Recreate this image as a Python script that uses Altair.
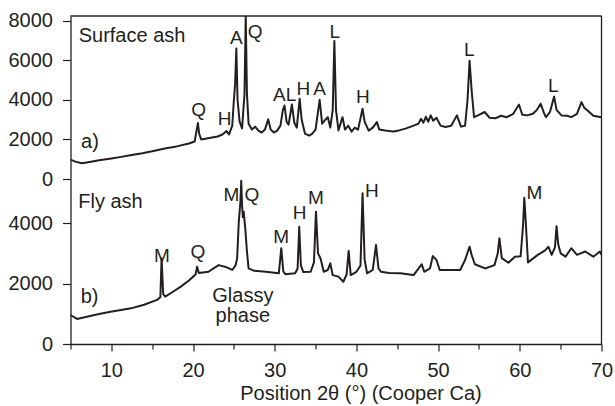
import altair as alt
import pandas as pd

# ---------------- data ----------------
surf_x = [5.0, 5.6, 6.4, 7.5, 8.5, 10.0, 11.2, 12.5, 13.8, 15.0, 16.7, 18.0, 19.5, 20.2, 20.45, 20.6, 20.75, 21.0,
          22.0, 23.0, 23.6, 24.1, 24.4, 24.8, 25.0, 25.15, 25.3, 25.45, 25.7, 26.0, 26.3, 26.45, 26.6, 26.8,
          27.2, 27.6, 28.0, 28.4, 28.8, 29.2, 29.5, 29.9, 30.3, 30.7, 31.0, 31.2, 31.45, 31.7, 32.1, 32.4,
          32.7, 33.05, 33.3, 33.7, 34.2, 34.6, 35.0, 35.5, 35.8, 36.2, 36.5, 36.8, 37.1, 37.3, 37.5, 37.8,
          38.3, 38.6, 39.0, 39.4, 39.8, 40.2, 40.75, 41.0, 41.5, 42.0, 42.5, 42.8, 43.5, 44.5, 45.2, 46.0,
          47.0, 47.6, 47.9, 48.2, 48.5, 48.8, 49.1, 49.4, 49.8, 50.3, 50.9, 51.6, 52.3, 52.8, 53.3, 53.6,
          53.85, 54.1, 54.4, 55.0, 55.7, 56.3, 57.0, 57.7, 58.4, 59.2, 59.9, 60.3, 60.9, 61.6, 62.1, 62.55,
          63.0, 63.2, 63.7, 64.2, 64.5, 65.1, 65.8, 66.3, 67.0, 67.55, 67.9, 68.3, 69.0, 70.0]
surf_y = [980, 880, 800, 870, 950, 1040, 1120, 1210, 1300, 1400, 1560, 1650, 1800, 1900, 2500, 2830, 2300, 2000,
          2080, 2150, 2250, 2430, 2250, 2700, 4000, 4800, 6600, 4000, 2900, 2560, 4300, 8250, 4300, 2800,
          2500, 2650, 2450, 2350, 2500, 3020, 2500, 2350, 2450, 2700, 3500, 3720, 2900, 2750, 3770, 2850,
          2600, 4060, 3000, 2300, 2200, 2300, 2500, 4010, 2800, 3000, 3130, 2600, 3500, 6990, 3500, 2460,
          3130, 2500, 2700, 2400, 2600, 2500, 3560, 2900, 2450, 2600, 2880, 2500, 2450, 2400, 2460, 2550,
          2700, 2800, 3050, 2850, 3150, 2900, 3220, 2950, 3100, 2700, 2630, 2700, 3220, 2650, 2700, 4000,
          5990, 4500, 3130, 3250, 3390, 3100, 3070, 3200, 3130, 3300, 3770, 3250, 3220, 3300, 3500, 3810,
          3300, 3130, 3400, 4170, 3500, 3220, 3200, 3130, 3300, 3890, 3600, 3470, 3200, 3130]

fly_x = [5.0, 5.8, 7.0, 8.5, 9.9, 11.0, 12.4, 14.0, 15.6, 16.0, 16.15, 16.35, 16.6, 17.5, 18.5, 19.5, 20.3,
         20.5, 20.7, 21.9, 22.5, 23.15, 24.0, 24.8, 25.2, 25.4, 25.6, 25.8, 25.9, 26.0, 26.1, 26.2, 26.4,
         26.6, 26.8, 27.5, 28.9, 30.5, 30.8, 31.05, 31.3, 32.5, 32.8, 33.0, 33.2, 33.5, 34.4, 34.8, 35.05,
         35.3, 35.6, 36.0, 36.5, 36.8, 37.1, 37.8, 38.4, 38.8, 39.05, 39.3, 40.0, 40.5, 40.75, 41.0, 41.3,
         42.0, 42.4, 42.7, 43.0, 44.0, 45.4, 46.5, 47.0, 48.0, 48.3, 49.0, 49.35, 49.8, 50.2, 51.5, 52.7,
         53.3, 53.85, 54.1, 54.5, 55.75, 56.9, 57.3, 57.5, 57.8, 58.6, 59.4, 60.1, 60.4, 60.55, 60.75, 61.0,
         62.2, 63.1, 63.5, 63.9, 64.3, 64.5, 64.7, 65.0, 65.6, 66.3, 67.0, 68.0, 69.0, 69.8, 70.0]
fly_y = [960, 830, 900, 990, 1070, 1120, 1180, 1300, 1460, 1550, 2840, 1650, 1570, 1720, 1900, 2100, 2300,
         2560, 2350, 2390, 2500, 2610, 2550, 2450, 2600, 2840, 4050, 4700, 5400, 4600, 4200, 4380, 3800,
         3060, 2500, 2420, 2390, 2340, 3170, 2400, 2310, 2340, 2500, 3880, 2600, 2380, 2390, 2700, 4380,
         3000, 2840, 2390, 2450, 2670, 2280, 2230, 2060, 2300, 3080, 2280, 2390, 2600, 4990, 2800, 2340,
         2450, 3280, 2500, 2390, 2350, 2340, 2300, 2280, 2640, 2390, 2500, 2910, 2780, 2450, 2450, 2450,
         2780, 3220, 2950, 2640, 2500, 2610, 3000, 3500, 2840, 2690, 2890, 2900, 3940, 4840, 3940, 2700,
         2950, 3100, 3220, 2950, 3200, 3900, 3300, 3000, 2890, 3170, 2950, 3060, 2890, 3060, 2950]

# peak labels
top_peak_x = [20.7, 23.85, 25.3, 27.6, 30.55, 32.0, 33.5, 35.5, 37.35, 40.8, 53.8, 64.1]
top_peak_y = [3470, 3050, 7160, 7460, 4230, 4260, 4560, 4560, 7460, 4140, 6520, 4730]
top_peak_t = ["Q", "H", "A", "Q", "A", "L", "H", "A", "L", "H", "L", "L"]

bot_peak_x = [16.2, 20.6, 24.7, 27.2, 30.8, 33.05, 35.05, 41.9, 61.8]
bot_peak_y = [2910, 3060, 4930, 4930, 3550, 4330, 4820, 5070, 5010]
bot_peak_t = ["M", "Q", "M", "Q", "M", "H", "M", "H", "M"]

top_note_x = [6.0, 6.3]
top_note_y = [7240, 1876]
top_note_t = ["Surface ash", "a)"]

bot_note_x = [5.95, 6.25]
bot_note_y = [4710, 1570]
bot_note_t = ["Fly ash", "b)"]

glassy_x = [26.1]
glassy_y = [1600]
glassy_t = ["Glassy\nphase"]

x_tick_values = [5, 10, 15, 20, 25, 30, 35, 40, 45, 50, 55, 60, 65, 70]
top_tick_values = [0, 1000, 2000, 3000, 4000, 5000, 6000, 7000, 8000]
bot_tick_values = [0, 1000, 2000, 3000, 4000, 5000]

# ---------------- style ----------------
FONT = "Liberation Sans"
INK = "#231f20"
FS = 20
FS_PEAK = 19
W = 531
H_TOP = 163
H_BOT = 165
TOP_MAX = 8250
BOT_MAX = 5460

xscale = alt.Scale(domain=[5, 70], nice=False, zero=False)


def y_axis(values):
    return alt.Axis(
        values=values,
        format="d",
        labelExpr="datum.value % 2000 === 0 ? datum.label : ''",
        tickSize={"condition": {"test": "datum.value % 2000 === 0", "value": 8}, "value": 4},
        grid=False,
        title=None,
        labelFont=FONT,
        labelFontSize=FS,
        labelColor=INK,
        labelPadding=10,
        domainColor=INK,
        domainWidth=1.3,
        tickColor=INK,
        tickWidth=1.2,
    )


x_axis = alt.Axis(
    values=x_tick_values,
    format="d",
    labelExpr="datum.value % 10 === 0 ? datum.label : ''",
    tickSize={"condition": {"test": "datum.value % 10 === 0", "value": 7}, "value": 5},
    grid=False,
    title="Position 2θ (°) (Cooper Ca)",
    titleFont=FONT,
    titleFontSize=FS,
    titleFontWeight="normal",
    titleColor=INK,
    titleX=290,
    titleY=49,
    titleAlign="center",
    titleBaseline="middle",
    labelFont=FONT,
    labelFontSize=FS,
    labelColor=INK,
    labelPadding=9,
    labelFlush=False,
    labelOverlap=False,
    domainColor=INK,
    domainWidth=1.3,
    tickColor=INK,
    tickWidth=1.2,
)


def panel(xs, ys, peak_x, peak_y, peak_t, note_x, note_y, note_t, ymax, height, ticks, show_x, top_border):
    df = pd.DataFrame({"x": xs, "y": ys})
    yscale = alt.Scale(domain=[0, ymax], nice=False, zero=False)
    xenc = alt.X("x:Q", scale=xscale, axis=x_axis if show_x else None)
    line = alt.Chart(df).mark_line(color=INK, strokeWidth=2, clip=True, strokeJoin="round").encode(
        x=xenc, y=alt.Y("y:Q", scale=yscale, axis=y_axis(ticks))
    )
    peaks = alt.Chart(pd.DataFrame({"x": peak_x, "y": peak_y, "t": peak_t})).mark_text(
        font=FONT, fontSize=FS_PEAK, color=INK, align="center", baseline="middle"
    ).encode(x=alt.X("x:Q", scale=xscale), y=alt.Y("y:Q", scale=yscale), text="t:N")
    notes = alt.Chart(pd.DataFrame({"x": note_x, "y": note_y, "t": note_t})).mark_text(
        font=FONT, fontSize=FS, color=INK, align="left", baseline="middle"
    ).encode(x=alt.X("x:Q", scale=xscale), y=alt.Y("y:Q", scale=yscale), text="t:N")
    one = pd.DataFrame({"a": [0]})
    right = alt.Chart(one).mark_rule(color=INK, strokeWidth=1.3).encode(
        x=alt.value(W), y=alt.value(0), y2=alt.value(height)
    )
    layers = [line, peaks, notes, right]
    if top_border:
        layers.append(alt.Chart(one).mark_rule(color=INK, strokeWidth=1.3).encode(
            x=alt.value(0), x2=alt.value(W), y=alt.value(0)))
    return alt.layer(*layers).properties(width=W, height=height)


top = panel(surf_x, surf_y, top_peak_x, top_peak_y, top_peak_t, top_note_x, top_note_y, top_note_t,
            TOP_MAX, H_TOP, top_tick_values, False, True)

bot_base = panel(fly_x, fly_y, bot_peak_x, bot_peak_y, bot_peak_t, bot_note_x, bot_note_y, bot_note_t,
                 BOT_MAX, H_BOT, bot_tick_values, True, False)
glassy = alt.Chart(pd.DataFrame({"x": glassy_x, "y": glassy_y, "t": glassy_t})).mark_text(
    font=FONT, fontSize=FS, color=INK, align="center", baseline="middle", lineBreak="\n", lineHeight=20
).encode(x=alt.X("x:Q", scale=xscale),
         y=alt.Y("y:Q", scale=alt.Scale(domain=[0, BOT_MAX], nice=False, zero=False)),
         text="t:N")
bot = alt.layer(bot_base, glassy).properties(width=W, height=H_BOT)

chart = alt.vconcat(top, bot, spacing=0, bounds="flush").properties(
    padding={"left": 7.5, "top": 10, "right": 0, "bottom": 2},
    background="white",
).configure_view(strokeWidth=0)

chart.save("out.html", embed_options={"renderer": "svg", "actions": False})
